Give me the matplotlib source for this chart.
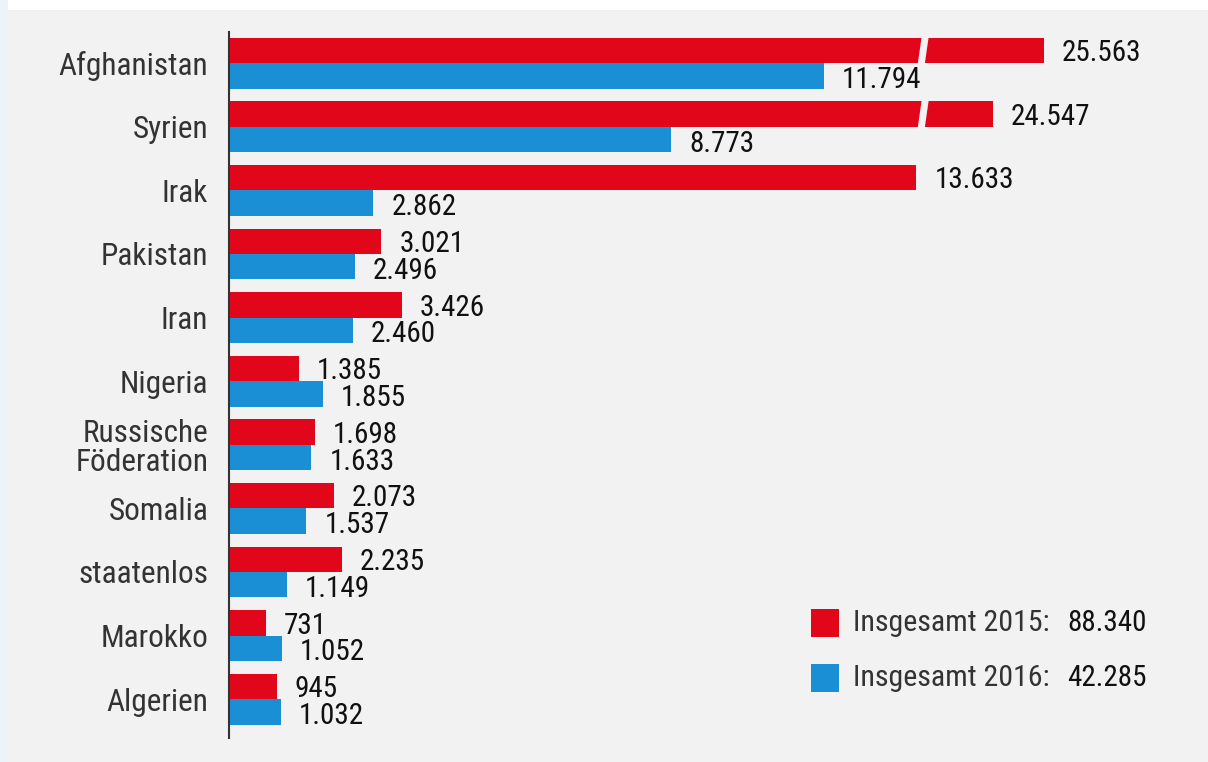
import matplotlib

matplotlib.use("Agg")
import matplotlib.pyplot as plt  # noqa: E402
from matplotlib import font_manager  # noqa: E402
from matplotlib.patches import Polygon, Rectangle  # noqa: E402

# Asylum applications by country of origin, 2015 vs 2016
countries = ["Afghanistan", "Syrien", "Irak", "Pakistan", "Iran", "Nigeria",
             "Russische\nFöderation", "Somalia", "staatenlos", "Marokko", "Algerien"]
values_2015 = [25563, 24547, 13633, 3021, 3426, 1385, 1698, 2073, 2235, 731, 945]
values_2016 = [11794, 8773, 2862, 2496, 2460, 1855, 1633, 1537, 1149, 1052, 1032]
total_2015 = 88340
total_2016 = 42285
legend_labels = ["Insgesamt 2015:", "Insgesamt 2016:"]

RED = "#e2061b"
BLUE = "#1a8fd6"
PANEL = "#f2f2f2"
TEXT = "#333333"
DARK = "#111111"

# bars longer than the break are drawn shortened by CUT, with a slanted gap at BREAK
CUT = 9400
BREAK = 13700
BREAK_LIMIT = 16000


def condensed(weight):
    fname = {400: "RobotoCondensed-Regular.ttf", 500: "RobotoCondensed-Medium.ttf",
             700: "RobotoCondensed-Bold.ttf"}[weight]
    for f in font_manager.fontManager.ttflist:
        if f.fname.endswith(fname):
            return f.fname
    return None


def fprop(weight, size):
    path = condensed(weight)
    if path:
        return font_manager.FontProperties(fname=path, size=size)
    return font_manager.FontProperties(family="DejaVu Sans", size=size)


def de(n):
    return f"{n:,}".replace(",", ".")


W, H = 1208, 762
fig = plt.figure(figsize=(W / 100, H / 100), dpi=100, facecolor="#eef3f8")
fig.patches.append(Rectangle((8 / W, 0), 1 - 8 / W, 1 - 10 / H, transform=fig.transFigure,
                             facecolor=PANEL, edgecolor="none", zorder=-2))
fig.patches.append(Rectangle((8 / W, 1 - 10 / H), 1 - 8 / W, 10 / H, transform=fig.transFigure,
                             facecolor="white", edgecolor="none", zorder=-2))

left, right, top, bottom = 229, 1187, 32, 738
ax = fig.add_axes([left / W, 1 - bottom / H, (right - left) / W, (bottom - top) / H])
ax.set_facecolor("none")
ax.set_xlim(0, 19000)
ax.set_ylim(len(countries) - 1 + 0.61, -0.49)

ys = list(range(len(countries)))
h = 0.4
shown_2015 = [v - CUT if v > BREAK_LIMIT else v for v in values_2015]
ax.barh([y - h / 2 for y in ys], shown_2015, height=h, color=RED, zorder=2)
ax.barh([y + h / 2 for y in ys], values_2016, height=h, color=BLUE, zorder=2)

# slanted gap through the shortened bars
for y, v in zip(ys, values_2015):
    if v > BREAK_LIMIT:
        y0, y1 = y - h - 0.03, y + 0.01
        gap, slant = 140, 40
        ax.add_patch(Polygon([(BREAK - slant, y1), (BREAK - slant + gap, y1),
                              (BREAK + slant + gap, y0), (BREAK + slant, y0)],
                             closed=True, facecolor=PANEL, edgecolor="none", zorder=3))

val_font = fprop(400, 21)
for y, shown, v in zip(ys, shown_2015, values_2015):
    ax.annotate(de(v), (shown, y - h / 2), xytext=(13, -2), textcoords="offset points",
                ha="left", va="center", fontproperties=val_font, color=DARK)
for y, v in zip(ys, values_2016):
    ax.annotate(de(v), (v, y + h / 2), xytext=(13, -3), textcoords="offset points",
                ha="left", va="center", fontproperties=val_font, color=DARK)

ax.set_yticks(ys)
ax.set_yticklabels(countries, fontproperties=fprop(400, 22.5), color=TEXT, linespacing=1.0)
ax.tick_params(axis="y", length=0, pad=15)
ax.set_xticks([])
for side in ["top", "right", "bottom"]:
    ax.spines[side].set_visible(False)
ax.spines["left"].set_color("#333333")
ax.spines["left"].set_linewidth(1.5)

# legend with the yearly totals
leg_font = fprop(400, 21.5)
tot_font = fprop(400, 21)
for i, (lab, tot, col) in enumerate(zip(legend_labels, [total_2015, total_2016], [RED, BLUE])):
    yc = 1 - (623 + 55 * i) / H
    fig.patches.append(Rectangle((811 / W, yc - 14 / H), 28 / W, 28 / H, transform=fig.transFigure,
                                 facecolor=col, edgecolor="none"))
    fig.text(853 / W, yc, lab, fontproperties=leg_font, color=TEXT, ha="left", va="center")
    fig.text(1067 / W, yc, de(tot), fontproperties=tot_font, color=DARK, ha="left", va="center")

fig.savefig("out.png", dpi=100, facecolor=fig.get_facecolor())
